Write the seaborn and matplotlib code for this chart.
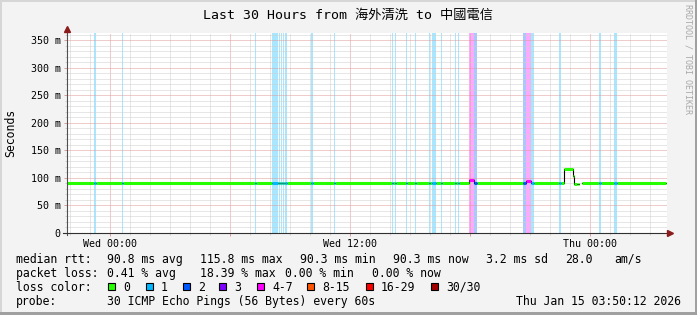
import numpy as np
import pandas as pd
import matplotlib
matplotlib.use("Agg")
import matplotlib.pyplot as plt
import matplotlib.colors as mcolors
from matplotlib.patches import Rectangle
import seaborn as sns

# ---------------- data ----------------
# time axis: hours since graph start (Tue 21:50:12), 30 hours shown
median_t = [0.00, 20.10, 20.35, 22.95, 23.20, 24.85, 25.30, 25.35, 25.50, 25.55, 25.60, 25.75, 29.95]
median_ms = [90.3, 95.5, 90.3, 93.5, 90.3, 115.8, 103.0, 89.5, np.nan, 89.8, np.nan, 90.3, np.nan]

# packet-loss intervals (hours since start) and lost pings out of 30
loss_start = [1.35, 2.75, 9.40, 10.25, 10.60, 10.70, 10.80, 10.90, 12.20, 13.35,
              16.25, 16.40, 16.95, 17.40, 18.10, 18.25, 18.70, 19.40, 19.55,
              20.10, 20.35, 22.80, 22.95, 23.20, 24.60, 26.60, 27.35]
loss_end = [1.45, 2.80, 9.45, 10.55, 10.65, 10.75, 10.85, 11.00, 12.30, 13.40,
            16.30, 16.45, 17.00, 17.45, 18.15, 18.45, 18.75, 19.45, 19.60,
            20.35, 20.50, 22.95, 23.20, 23.35, 24.70, 26.70, 27.50]
loss_pings = [1, 1, 1, 1, 1, 1, 1, 1, 1, 1,
              1, 1, 1, 1, 1, 1, 1, 1, 1,
              5, 2, 2, 5, 1, 1, 1, 1]

loss_labels = ["0", "1", "2", "3", "4-7", "8-15", "16-29", "30/30"]
loss_lower = [0, 1, 2, 3, 4, 8, 16, 30]
loss_colors = ["#26ff00", "#00b8ff", "#0059ff", "#7e00ff", "#ff00ff", "#ff5500", "#ff0000", "#a10000"]

x_major_hours = [2.1633, 8.1633, 14.1633, 20.1633, 26.1633]
x_tick_labels = ["Wed 00:00", "", "Wed 12:00", "", "Thu 00:00"]
x_minor_hours = [0.1633 + h for h in range(30)]
y_ticks = [0, 50, 100, 150, 200, 250, 300, 350]
y_tick_labels = ["0", "50 m", "100 m", "150 m", "200 m", "250 m", "300 m", "350 m"]
y_minor = list(range(0, 361, 10))

title = "Last 30 Hours from 海外清洗 to 中國電信"
stats_rtt = [("median rtt:", 16), ("90.8 ms avg", 107), ("115.8 ms max", 200),
             ("90.3 ms min", 300), ("90.3 ms now", 393), ("3.2 ms sd", 486),
             ("28.0", 565), ("am/s", 614)]
stats_loss = [("packet loss:", 16), ("0.41 % avg", 107), ("18.39 % max", 200),
              ("0.00 % min", 285), ("0.00 % now", 372)]
probe_text = "30 ICMP Echo Pings (56 Bytes) every 60s"
date_text = "Thu Jan 15 03:50:12 2026"

# ---------------- layout ----------------
W, H = 697, 315
MONO = "DejaVu Sans Mono"
fig = plt.figure(figsize=(W / 100, H / 100), dpi=100)
fig.patch.set_facecolor("#f3f3f3")
ax = fig.add_axes([67 / W, (H - 233) / H, 600 / W, 200 / H])
ax.set_facecolor("white")

def cls_of(p):
    idx = 0
    for i, lo in enumerate(loss_lower):
        if p >= lo:
            idx = i
    return idx

# loss background bands
for s, e, p in zip(loss_start, loss_end, loss_pings):
    c = np.array(mcolors.to_rgb(loss_colors[cls_of(p)]))
    band = 0.66 + 0.34 * c
    ax.axvspan(s, e, color=band, lw=0, zorder=0.5, antialiased=False)

# build segments of median line coloured by loss
bounds = sorted(set(median_t) | set(loss_start) | set(loss_end))
rows, path = [], []
run, seg, prev_nan = 0, 0, True
for a, b in zip(bounds[:-1], bounds[1:]):
    mid = (a + b) / 2
    k = max(i for i, t in enumerate(median_t) if t <= mid)
    y = median_ms[k]
    if np.isnan(y):
        prev_nan = True
        continue
    if prev_nan:
        run += 1
        prev_nan = False
    cls = "0"
    for s, e, p in zip(loss_start, loss_end, loss_pings):
        if s <= mid < e:
            cls = loss_labels[cls_of(p)]
    rows += [dict(x=a, y=y, seg=seg, cls=cls), dict(x=b, y=y, seg=seg, cls=cls)]
    path += [dict(x=a, y=y, run=run), dict(x=b, y=y, run=run)]
    seg += 1
seg_df = pd.DataFrame(rows)
path_df = pd.DataFrame(path)

sns.lineplot(data=path_df, x="x", y="y", units="run", estimator=None, sort=False,
             color="black", lw=0.8, ax=ax, zorder=2)
sns.lineplot(data=seg_df, x="x", y="y", units="seg", hue="cls", estimator=None, sort=False,
             palette=dict(zip(loss_labels, loss_colors)), lw=2.2, legend=False,
             solid_capstyle="butt", ax=ax, zorder=3)

ax.set_xlim(0, 30)
ax.set_ylim(0, 363)
ax.set_xlabel("")
ax.set_ylabel("")
for sp in ax.spines.values():
    sp.set_visible(False)

grid_red = "#de9a9a"
grid_gray = "#cfcfcf"
ax.set_xticks(x_major_hours)
ax.set_xticklabels(x_tick_labels)
ax.set_xticks(x_minor_hours, minor=True)
ax.set_yticks(y_ticks)
ax.set_yticklabels(y_tick_labels)
ax.set_yticks(y_minor, minor=True)
dot = (0, (1, 1))
ax.grid(True, which="minor", color=grid_gray, ls=dot, lw=0.72)
ax.grid(True, which="major", color=grid_red, ls=dot, lw=0.72)
ax.tick_params(which="major", length=2.5, width=0.7, color=grid_red, pad=2,
               labelsize=7.2, labelfontfamily=MONO, labelcolor="black")
ax.tick_params(which="minor", length=1.2, width=0.7, color=grid_gray)
ax.tick_params(axis="x", which="major", pad=1.5)

# axis lines with arrows
ax.plot([0, 0], [-0.012, 1.02], color="#505050", lw=0.8, transform=ax.transAxes, clip_on=False, zorder=5)
ax.plot([-0.006, 1.005], [0, 0], color="#303030", lw=0.8, transform=ax.transAxes, clip_on=False, zorder=5)
ax.plot([0], [1.02], marker="^", ms=4, color="#8b1c1c", transform=ax.transAxes, clip_on=False, zorder=6)
ax.plot([1.005], [0], marker=">", ms=4, color="#8b1c1c", transform=ax.transAxes, clip_on=False, zorder=6)

def ftext(x, y, s, **kw):
    kw.setdefault("family", MONO)
    kw.setdefault("va", "baseline")
    kw.setdefault("ha", "left")
    return fig.text(x / W, 1 - y / H, s, **kw)

ftext(348, 19, title, ha="center", fontsize=9.5, family=[MONO, "Noto Sans CJK TC"])
ftext(11, 133, "Seconds", ha="center", va="center", rotation=90, fontsize=8.3)
ftext(688, 4, "RRDTOOL / TOBI OETIKER", ha="center", va="top", rotation=-90,
      fontsize=6, color="#a8a8a8")

LS = 8.3
for s, x in stats_rtt:
    ftext(x, 263, s, fontsize=LS)
for s, x in stats_loss:
    ftext(x, 277, s, fontsize=LS)
ftext(16, 291, "loss color:", fontsize=LS)
box_x = [108, 146, 183, 219, 257, 307, 366, 431]
for bx, lab, col in zip(box_x, loss_labels, loss_colors):
    fig.add_artist(Rectangle((bx / W, 1 - 290 / H), 7 / W, 7 / H, transform=fig.transFigure,
                             fc=col, ec="black", lw=0.8))
    ftext(bx + 15, 291, lab, fontsize=LS)
ftext(16, 305, "probe:", fontsize=LS)
ftext(107, 305, probe_text, fontsize=LS)
ftext(681, 305, date_text, ha="right", fontsize=LS)

# frame around canvas
fig.add_artist(Rectangle((0, 1 - 2 / H), 1, 2 / H, transform=fig.transFigure, fc="#d6d6d6", lw=0))
fig.add_artist(Rectangle((0, 0), 2 / W, 1, transform=fig.transFigure, fc="#d6d6d6", lw=0))
fig.add_artist(Rectangle((0, 0), 1, 3 / H, transform=fig.transFigure, fc="#a0a0a0", lw=0))
fig.add_artist(Rectangle((1 - 2 / W, 0), 2 / W, 1, transform=fig.transFigure, fc="#a0a0a0", lw=0))

fig.savefig("out.png", dpi=100, facecolor=fig.get_facecolor())
